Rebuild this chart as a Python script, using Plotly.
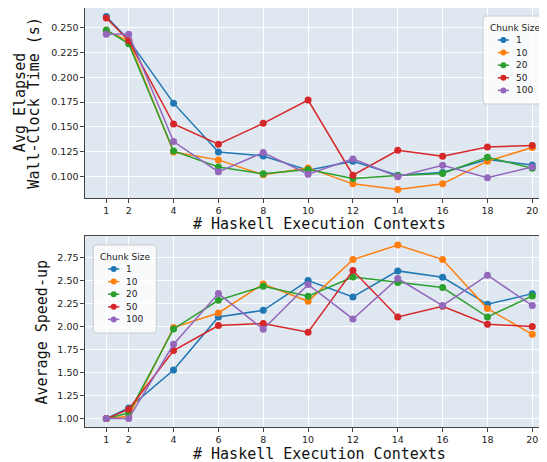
import plotly.graph_objects as go

contexts = [1, 2, 4, 6, 8, 10, 12, 14, 16, 18, 20]
chunk_sizes = ["1", "10", "20", "50", "100"]
colors = ["#1f77b4", "#ff7f0e", "#2ca02c", "#d62728", "#9467bd"]

time_1 = [0.2614, 0.2379, 0.1740, 0.1247, 0.1207, 0.1063, 0.1154, 0.1013, 0.1040, 0.1171, 0.1116]
time_10 = [0.2470, 0.2370, 0.1247, 0.1167, 0.1016, 0.1086, 0.0925, 0.0869, 0.0925, 0.1154, 0.1292]
time_20 = [0.2480, 0.2339, 0.1257, 0.1096, 0.1026, 0.1070, 0.0979, 0.1010, 0.1030, 0.1194, 0.1083]
time_50 = [0.2600, 0.2372, 0.1529, 0.1325, 0.1536, 0.1771, 0.1013, 0.1264, 0.1204, 0.1298, 0.1312]
time_100 = [0.2436, 0.2436, 0.1352, 0.1046, 0.1241, 0.1023, 0.1177, 0.0996, 0.1113, 0.0986, 0.1096]

speed_1 = [1.00, 1.115, 1.528, 2.104, 2.177, 2.500, 2.322, 2.605, 2.536, 2.242, 2.358]
speed_10 = [1.00, 1.025, 1.989, 2.148, 2.463, 2.275, 2.728, 2.887, 2.728, 2.196, 1.916]
speed_20 = [1.00, 1.061, 1.974, 2.286, 2.438, 2.329, 2.539, 2.478, 2.424, 2.104, 2.333]
speed_50 = [1.00, 1.101, 1.739, 2.011, 2.033, 1.938, 2.609, 2.104, 2.220, 2.025, 2.000]
speed_100 = [1.00, 1.000, 1.808, 2.359, 1.971, 2.457, 2.083, 2.522, 2.228, 2.558, 2.228]

time_ticks = [0.100, 0.125, 0.150, 0.175, 0.200, 0.225, 0.250]
speed_ticks = [1.00, 1.25, 1.50, 1.75, 2.00, 2.25, 2.50, 2.75]

x_title = "# Haskell Execution Contexts"
y_title_top = ["Avg Elapsed", "Wall-Clock Time (s)"]
y_title_bottom = "Average Speed-up"
legend_title = "Chunk Size"

times = [time_1, time_10, time_20, time_50, time_100]
speeds = [speed_1, speed_10, speed_20, speed_50, speed_100]

# the page body has an 8px default margin, so the figure is offset by 8px;
# all pixel positions below are given in window (page) coordinates.
OFF = 8
WIN_W, WIN_H = 547, 462
W, H = WIN_W - OFF, WIN_H - OFF
PLOT_LEFT, PLOT_RIGHT, PLOT_TOP, PLOT_BOTTOM = 85.0, 547.0, 8.0, 428.0
ML = PLOT_LEFT - OFF
MR = OFF + W - PLOT_RIGHT
MT = PLOT_TOP - OFF
MB = OFF + H - PLOT_BOTTOM
plot_w = W - ML - MR
plot_h = H - MT - MB

TOP = (8.0, 198.0)       # page pixel top/bottom of upper panel
BOT = (236.3, 427.3)     # page pixel top/bottom of lower panel


def px_x(px):
    return (px - PLOT_LEFT) / plot_w


def px_y(py):
    return (PLOT_BOTTOM - py) / plot_h


def ydom(top_px, bot_px):
    return [max(0.0, min(1.0, px_y(bot_px))), max(0.0, min(1.0, px_y(top_px)))]


fig = go.Figure()

for name, col, ys in zip(chunk_sizes, colors, times):
    fig.add_trace(go.Scatter(
        x=contexts, y=ys, name=name, mode="lines+markers", showlegend=False,
        line=dict(color=col, width=1.5), marker=dict(color=col, size=7),
        xaxis="x", yaxis="y"))

for name, col, ys in zip(chunk_sizes, colors, speeds):
    fig.add_trace(go.Scatter(
        x=contexts, y=ys, name=name, mode="lines+markers", showlegend=False,
        line=dict(color=col, width=1.5), marker=dict(color=col, size=7),
        xaxis="x2", yaxis="y2"))

tickfont = dict(family="DejaVu Sans", size=9.5, color="#222")
titlefont = dict(family="DejaVu Sans Mono", size=15, color="#111")
legfont = dict(family="DejaVu Sans", size=9, color="#222")
bg = "#dfe7f1"
spine = "#444444"

x_px_per_unit = 22.42
xcommon = dict(
    range=[0.05, 0.05 + plot_w / x_px_per_unit],
    tickvals=contexts, ticktext=[str(c) for c in contexts],
    tickfont=tickfont, ticks="outside", ticklen=3.5, tickcolor=spine,
    showgrid=True, gridcolor="white", gridwidth=1,
    showline=True, linecolor=spine, linewidth=1.2, mirror=True,
    zeroline=False, automargin=False,
)
ycommon = dict(
    tickfont=tickfont, ticks="outside", ticklen=3.5, tickcolor=spine,
    showgrid=True, gridcolor="white", gridwidth=1,
    showline=True, linecolor=spine, linewidth=1.2, zeroline=False,
    automargin=False,
)

fig.update_layout(
    width=W, height=H,
    margin=dict(l=ML, r=MR, t=MT, b=MB, pad=0, autoexpand=False),
    paper_bgcolor="white", plot_bgcolor=bg,
    showlegend=False,
    xaxis=dict(domain=[0, 1], anchor="y", **xcommon),
    xaxis2=dict(domain=[0, 1], anchor="y2", **xcommon),
    yaxis=dict(
        domain=ydom(*TOP), anchor="x",
        range=[0.0782, 0.2701], tickvals=time_ticks,
        ticktext=[f"{v:.3f}" for v in time_ticks], **ycommon),
    yaxis2=dict(
        domain=ydom(*BOT), anchor="x2",
        range=[0.9056, 2.981], tickvals=speed_ticks,
        ticktext=[f"{v:.2f}" for v in speed_ticks], **ycommon),
)

shapes = []
annotations = []

# axis titles
x_center = 319.3
for (t, b) in [TOP, BOT]:
    annotations.append(dict(text=x_title, x=px_x(x_center), y=px_y(b + 26.5),
                            xanchor="center", yanchor="middle", borderpad=0))
top_mid = (7.3 + TOP[1]) / 2
for txt, xpx in zip(y_title_top, [19.5, 34.0]):
    annotations.append(dict(text=txt, textangle=-90, x=px_x(xpx), y=px_y(top_mid),
                            xanchor="center", yanchor="middle"))
annotations.append(dict(text=y_title_bottom, textangle=-90, x=px_x(41.7),
                        y=px_y((BOT[0] + BOT[1]) / 2), xanchor="center", yanchor="middle"))
for a in annotations:
    a.update(showarrow=False, xref="paper", yref="paper", font=titlefont)


def rounded_rect(x0, y0, x1, y1, r):
    X = lambda v: px_x(v)
    Y = lambda v: px_y(v)
    return (f"M {X(x0 + r)},{Y(y0)} L {X(x1 - r)},{Y(y0)} "
            f"Q {X(x1)},{Y(y0)} {X(x1)},{Y(y0 + r)} L {X(x1)},{Y(y1 - r)} "
            f"Q {X(x1)},{Y(y1)} {X(x1 - r)},{Y(y1)} L {X(x0 + r)},{Y(y1)} "
            f"Q {X(x0)},{Y(y1)} {X(x0)},{Y(y1 - r)} L {X(x0)},{Y(y0 + r)} "
            f"Q {X(x0)},{Y(y0)} {X(x0 + r)},{Y(y0)} Z")


def add_legend(left, top):
    shapes.append(dict(type="path", path=rounded_rect(left, top, left + 63, top + 88, 3),
                       xref="paper", yref="paper",
                       fillcolor="rgba(255,255,255,0.8)",
                       line=dict(color="#cccccc", width=1), layer="above"))
    annotations.append(dict(text=legend_title, x=px_x(left + 31.5), y=px_y(top + 11.7),
                            xanchor="center", yanchor="middle", showarrow=False,
                            xref="paper", yref="paper", font=legfont))
    rows = [24.0, 36.6, 49.2, 61.8, 74.4]
    for name, col, dy in zip(chunk_sizes, colors, rows):
        yy = top + dy
        shapes.append(dict(type="line", xref="paper", yref="paper",
                           x0=px_x(left + 14.8), x1=px_x(left + 26.0),
                           y0=px_y(yy), y1=px_y(yy),
                           line=dict(color=col, width=1.5), layer="above"))
        cx = left + 20.4
        rr = 3.0
        shapes.append(dict(type="circle", xref="paper", yref="paper",
                           x0=px_x(cx - rr), x1=px_x(cx + rr),
                           y0=px_y(yy + rr), y1=px_y(yy - rr),
                           fillcolor=col, line=dict(color=col, width=0), layer="above"))
        annotations.append(dict(text=name, x=px_x(left + 31.0), y=px_y(yy),
                                xanchor="left", yanchor="middle", showarrow=False,
                                xref="paper", yref="paper", font=legfont))


add_legend(483.0, 16.0)
add_legend(93.3, 245.0)

fig.update_layout(shapes=shapes, annotations=annotations)

fig.write_html("out.html")
